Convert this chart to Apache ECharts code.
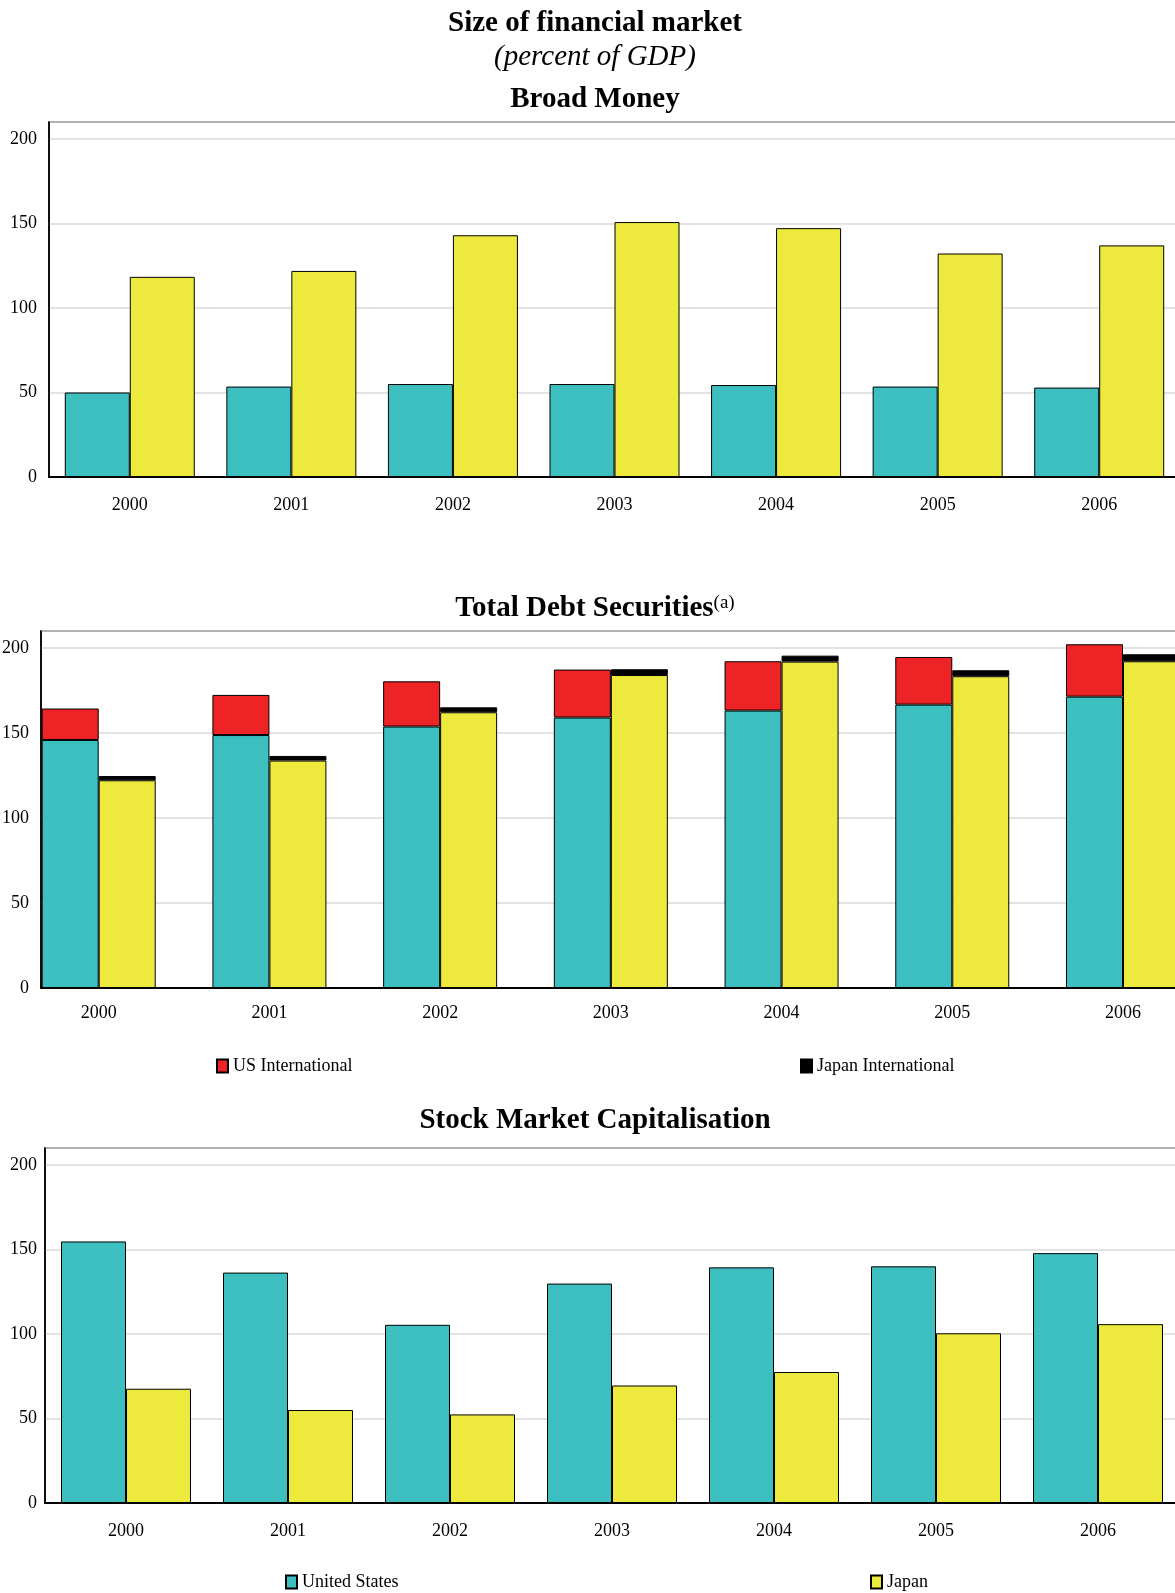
<!DOCTYPE html>
<html>
<head>
<meta charset="utf-8">
<script src="https://cdn.jsdelivr.net/npm/echarts@6/dist/echarts.min.js"></script>
<style>
body{margin:0;background:#fff;}
#chart{width:1175px;height:1593px;}
</style>
</head>
<body>
<div id="chart"></div>
<script>
// categories
var years = ['2000', '2001', '2002', '2003', '2004', '2005', '2006'];

// Broad Money (percent of GDP)
var broadUS = [50, 53.5, 55, 55, 54.4, 53.5, 52.9];
var broadJapan = [118.4, 121.9, 143, 150.8, 147.2, 132.2, 137];

// Total Debt Securities: domestic part + international part
var debtUS = [145.9, 148.8, 153.8, 159.1, 163.2, 166.7, 171.4];
var debtUSIntl = [18.5, 23.6, 26.6, 28.2, 29, 28, 30.8];
var debtJapan = [122.2, 133.8, 162.2, 184.1, 192, 183.4, 192.2];
var debtJapanIntl = [2.5, 2.7, 2.9, 3.4, 3.5, 3.5, 4.1];

// Stock Market Capitalisation
var stockUS = [154.7, 136.3, 105.4, 129.8, 139.4, 140, 147.8];
var stockJapan = [67.6, 55, 52.4, 69.5, 77.5, 100.4, 105.8];

var yTicks = [0, 50, 100, 150, 200];

var serif = 'Liberation Serif';
var teal = '#3dbfc0', yellow = '#edea3d', red = '#ee2326', black = '#000';

var chart = echarts.init(document.getElementById('chart'));

function barStyle(color) {
    return {color: color, borderColor: '#000', borderWidth: 1};
}

function titleItem(text, top, italic) {
    return {
        text: text, left: 595, textAlign: 'center', top: top, padding: 0,
        textStyle: {
            fontFamily: serif, fontSize: 29, color: '#000', lineHeight: 30,
            fontWeight: italic ? 'normal' : 'bold',
            fontStyle: italic ? 'italic' : 'normal'
        }
    };
}

function legendItem(name, left, top) {
    return {
        data: [name], left: left, top: top, padding: 0,
        icon: 'rect', itemWidth: 11, itemHeight: 13,
        selectedMode: false,
        textStyle: {fontFamily: serif, fontSize: 18, color: '#000'}
    };
}

function valueAxis(gridIndex, margin, shown) {
    return {
        type: 'value', gridIndex: gridIndex, min: 0, max: 210, interval: 50,
        show: shown,
        axisLine: {show: true, lineStyle: {color: '#000', width: 1.5}},
        axisTick: {show: false},
        axisLabel: {
            color: '#000', fontFamily: serif, fontSize: 18, margin: margin,
            formatter: function (v) { return yTicks.indexOf(v) >= 0 ? v : ''; }
        },
        splitLine: {show: true, lineStyle: {color: '#dadada', width: 1.5}}
    };
}

function catAxis(gridIndex, margin, line, labels) {
    return {
        type: 'category', gridIndex: gridIndex, data: years,
        axisLine: {show: line, lineStyle: {color: '#000', width: 2}},
        axisTick: {show: false},
        axisLabel: {show: labels, color: '#000', fontFamily: serif, fontSize: 18, margin: margin}
    };
}

function gridItem(left, top, width, height, framed) {
    return {
        left: left, top: top, width: width, height: height,
        outerBoundsMode: 'none', containLabel: false,
        show: framed, borderColor: '#000', borderWidth: 1.5
    };
}

var option = {
    animation: false,
    backgroundColor: '#fff',
    textStyle: {fontFamily: serif},
    title: [
        titleItem('Size of financial market', 9),
        titleItem('(percent of GDP)', 42.5, true),
        titleItem('Broad Money', 85),
        {
            text: '{t|Total Debt Securities}{s|(a)}', left: 595, textAlign: 'center', top: 594, padding: 0,
            textStyle: {
                rich: {
                    t: {fontFamily: serif, fontSize: 29, fontWeight: 'bold', color: '#000', lineHeight: 30},
                    s: {fontFamily: serif, fontSize: 19, fontWeight: 'normal', color: '#000', lineHeight: 16, verticalAlign: 'top'}
                }
            }
        },
        titleItem('Stock Market Capitalisation', 1106)
    ],
    legend: [
        legendItem('US International', 216, 1057),
        legendItem('Japan International', 800, 1057),
        legendItem('United States', 285, 1573),
        legendItem('Japan', 870, 1573)
    ],
    grid: [
        gridItem(49, 122, 1131, 355, true),
        gridItem(41, 631, 1180, 357, true),
        gridItem(13.35, 631, 1195, 357, false),
        gridItem(45, 1148, 1134, 355, true)
    ],
    xAxis: [
        catAxis(0, 19, true, true),
        catAxis(1, 16, true, false),
        catAxis(2, 16, false, true),
        catAxis(3, 19, true, true)
    ],
    yAxis: [
        valueAxis(0, 12, true),
        valueAxis(1, 12, true),
        valueAxis(2, 12, false),
        valueAxis(3, 8, true)
    ],
    series: [
        // Broad Money
        {name: 'United States', type: 'bar', xAxisIndex: 0, yAxisIndex: 0, data: broadUS,
            barWidth: 65, barGap: 0, itemStyle: barStyle(teal)},
        {name: 'Japan', type: 'bar', xAxisIndex: 0, yAxisIndex: 0, data: broadJapan,
            barWidth: 65, barGap: 0, itemStyle: barStyle(yellow)},
        // Total Debt Securities
        {name: 'United States', type: 'bar', stack: 'us', xAxisIndex: 2, yAxisIndex: 2, data: debtUS,
            barWidth: 57, barGap: 0, itemStyle: barStyle(teal)},
        {name: 'US International', type: 'bar', stack: 'us', xAxisIndex: 2, yAxisIndex: 2, data: debtUSIntl,
            barWidth: 57, barGap: 0, itemStyle: barStyle(red)},
        {name: 'Japan', type: 'bar', stack: 'jp', xAxisIndex: 2, yAxisIndex: 2, data: debtJapan,
            barWidth: 57, barGap: 0, itemStyle: barStyle(yellow)},
        {name: 'Japan International', type: 'bar', stack: 'jp', xAxisIndex: 2, yAxisIndex: 2, data: debtJapanIntl,
            barWidth: 57, barGap: 0, itemStyle: barStyle(black)},
        // Stock Market Capitalisation
        {name: 'United States', type: 'bar', xAxisIndex: 3, yAxisIndex: 3, data: stockUS,
            barWidth: 65, barGap: 0, itemStyle: barStyle(teal)},
        {name: 'Japan', type: 'bar', xAxisIndex: 3, yAxisIndex: 3, data: stockJapan,
            barWidth: 65, barGap: 0, itemStyle: barStyle(yellow)}
    ]
};

chart.setOption(option);
window.addEventListener('resize', function () {
    chart.resize();
});
</script>
</body>
</html>
